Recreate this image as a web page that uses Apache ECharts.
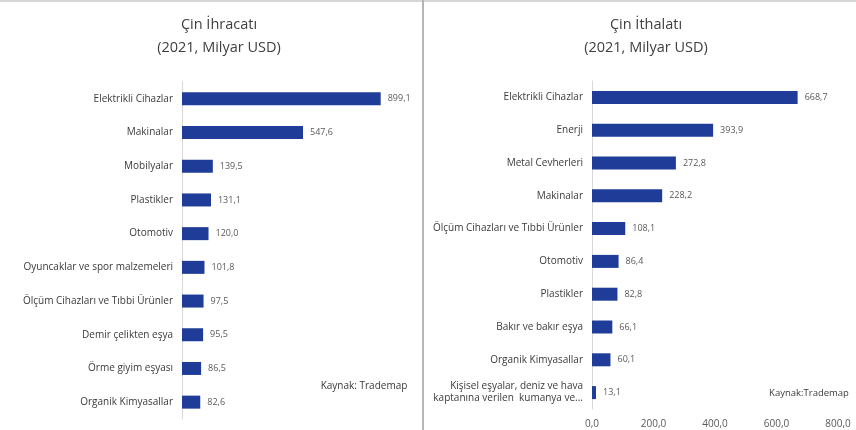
<!DOCTYPE html>
<html>
<head>
<meta charset="utf-8">
<script src="https://cdn.jsdelivr.net/npm/echarts@6/dist/echarts.min.js"></script>
<style>
  html, body { margin: 0; padding: 0; background: #ffffff; }
  #chart { width: 856px; height: 430px; }
</style>
</head>
<body>
<div id="chart"></div>
<script>
// China's top export groups, 2021 (billion USD)
const exportCategories = [
  'Elektrikli Cihazlar',
  'Makinalar',
  'Mobilyalar',
  'Plastikler',
  'Otomotiv',
  'Oyuncaklar ve spor malzemeleri',
  'Ölçüm Cihazları ve Tıbbi Ürünler',
  'Demir çelikten eşya',
  'Örme giyim eşyası',
  'Organik Kimyasallar'
];
const exportValues = [899.1, 547.6, 139.5, 131.1, 120.0, 101.8, 97.5, 95.5, 86.5, 82.6];

// China's top import groups, 2021 (billion USD)
const importCategories = [
  'Elektrikli Cihazlar',
  'Enerji',
  'Metal Cevherleri',
  'Makinalar',
  'Ölçüm Cihazları ve Tıbbi Ürünler',
  'Otomotiv',
  'Plastikler',
  'Bakır ve bakır eşya',
  'Organik Kimyasallar',
  'Kişisel eşyalar, deniz ve hava\nkaptanına verilen  kumanya ve...'
];
const importValues = [668.7, 393.9, 272.8, 228.2, 108.1, 86.4, 82.8, 66.1, 60.1, 13.1];

const importTicks = [0, 200, 400, 600, 800];

const FONT = '"Open Sans", "Liberation Sans", sans-serif';
const BAR = '#1f3d98';
const fmt = v => v.toFixed(1).replace('.', ',');

const chart = echarts.init(document.getElementById('chart'), null, { renderer: 'canvas' });

const catAxis = (gridIndex, data) => ({
  type: 'category',
  gridIndex,
  data,
  inverse: true,
  axisLine: { show: true, lineStyle: { color: '#d9d9d9', width: 1 } },
  axisTick: { show: false },
  axisLabel: {
    color: '#3a3a3a',
    fontFamily: FONT,
    fontSize: 10,
    margin: 9,
    lineHeight: 12,
    align: 'right'
  }
});

const barSeries = (idx, values) => ({
  type: 'bar',
  xAxisIndex: idx,
  yAxisIndex: idx,
  data: values,
  barWidth: 13,
  itemStyle: { color: BAR },
  label: {
    show: true,
    position: 'right',
    distance: 7,
    color: '#595959',
    fontFamily: FONT,
    fontSize: 9,
    formatter: p => fmt(p.value)
  }
});

const titleStyle = {
  fontFamily: FONT, fontSize: 14.5, fontWeight: 'normal', color: '#404040', lineHeight: 23
};

chart.setOption({
  animation: false,
  backgroundColor: '#ffffff',
  title: [
    { text: 'Çin İhracatı\n(2021, Milyar USD)', left: 214, top: 8, textAlign: 'center', textStyle: titleStyle },
    { text: 'Çin İthalatı\n(2021, Milyar USD)', left: 641, top: 8, textAlign: 'center', textStyle: titleStyle }
  ],
  grid: [
    { left: 182, width: 221, top: 82, height: 337 },
    { left: 592, width: 246, top: 81, height: 328 }
  ],
  xAxis: [
    {
      type: 'value', gridIndex: 0, min: 0, max: 1000, interval: 200,
      axisLine: { show: false }, axisTick: { show: false },
      axisLabel: { show: false }, splitLine: { show: false }
    },
    {
      type: 'value', gridIndex: 1,
      min: importTicks[0], max: importTicks[importTicks.length - 1], interval: 200,
      axisLine: { show: false }, axisTick: { show: false },
      splitLine: { show: false },
      axisLabel: {
        color: '#595959', fontFamily: FONT, fontSize: 10, margin: 10,
        formatter: v => fmt(v)
      }
    }
  ],
  yAxis: [catAxis(0, exportCategories), catAxis(1, importCategories)],
  series: [barSeries(0, exportValues), barSeries(1, importValues)],
  graphic: [
    { type: 'rect', shape: { x: 0, y: 0, width: 856, height: 2 }, style: { fill: '#d6d6d6' }, silent: true },
    { type: 'rect', shape: { x: 422, y: 0, width: 2, height: 430 }, style: { fill: '#b5b5b5' }, silent: true },
    {
      type: 'text', x: 364, y: 386,
      style: { text: 'Kaynak: Trademap', fill: '#3a3a3a', font: '10px ' + FONT, align: 'center', verticalAlign: 'middle' }
    },
    {
      type: 'text', x: 809, y: 393,
      style: { text: 'Kaynak:Trademap', fill: '#3a3a3a', font: '9.5px ' + FONT, align: 'center', verticalAlign: 'middle' }
    }
  ]
});
</script>
</body>
</html>
